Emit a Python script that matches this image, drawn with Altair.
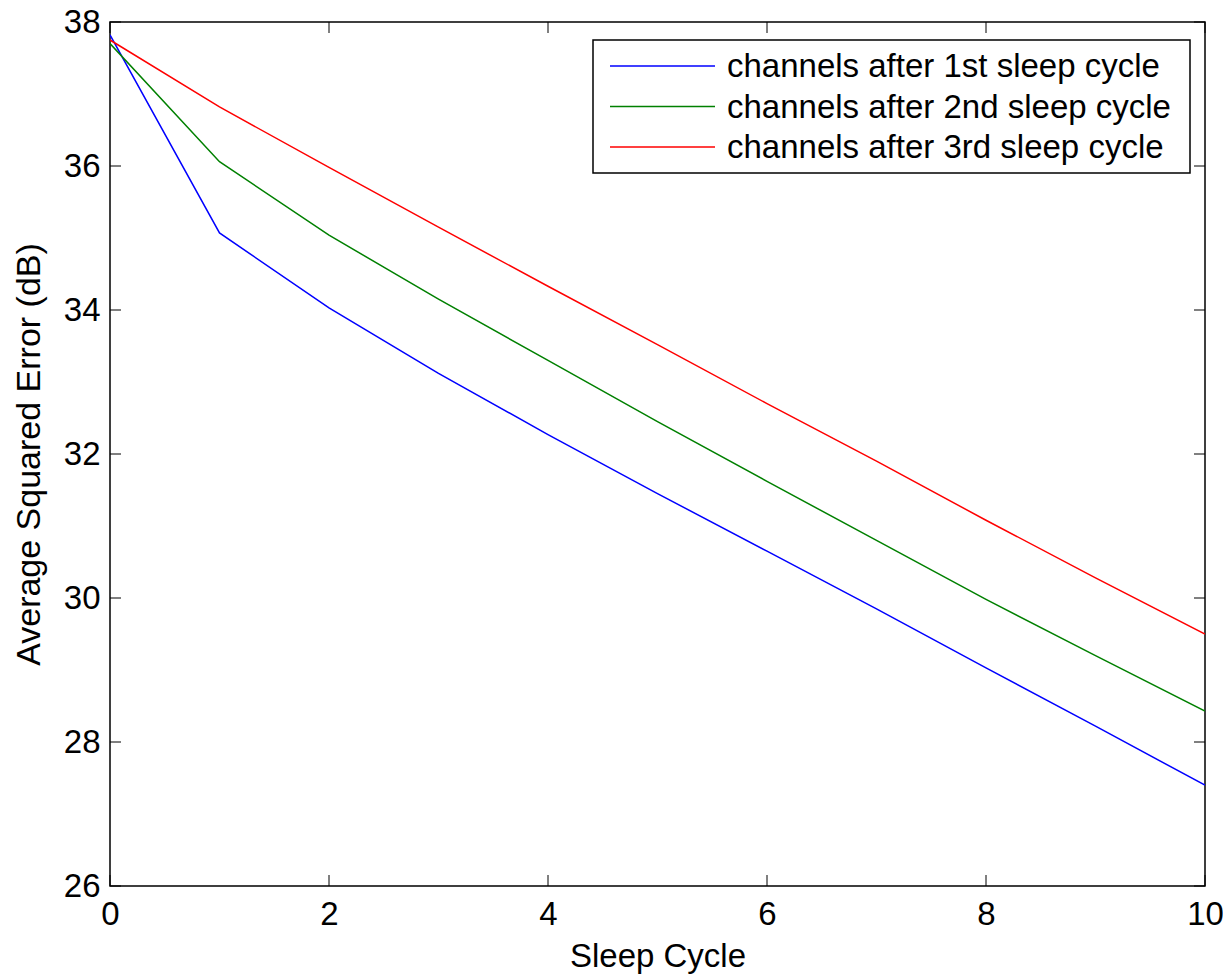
import altair as alt
import pandas as pd

cycles = [0, 1, 2, 3, 4, 5, 6, 7, 8, 9, 10]
blue_vals = [37.82, 35.07, 34.03, 33.12, 32.27, 31.45, 30.65, 29.85, 29.03, 28.22, 27.40]
green_vals = [37.70, 36.06, 35.04, 34.15, 33.30, 32.45, 31.62, 30.80, 29.98, 29.20, 28.43]
red_vals = [37.75, 36.82, 35.98, 35.15, 34.33, 33.52, 32.70, 31.90, 31.08, 30.28, 29.50]
series_names = ["channels after 1st sleep cycle",
                "channels after 2nd sleep cycle",
                "channels after 3rd sleep cycle"]
series_colors = ["#0000FF", "#008000", "#FF0000"]
x_ticks = [0, 2, 4, 6, 8, 10]
y_ticks = [26, 28, 30, 32, 34, 36, 38]

W, H = 1095, 864
FONT = "Liberation Sans"
FS = 33
TICK = 11

rows = []
for name, vals in zip(series_names, [blue_vals, green_vals, red_vals]):
    for c, v in zip(cycles, vals):
        rows.append({"cycle": c, "err": v, "series": name})
df = pd.DataFrame(rows)

xscale = alt.Scale(domain=[0, 10], nice=False, zero=False)
yscale = alt.Scale(domain=[26, 38], nice=False, zero=False)

xaxis = alt.Axis(title="Sleep Cycle", values=x_ticks, format="d", ticks=False, domain=False,
                 grid=False, labelFontSize=FS, labelFont=FONT, labelColor="black",
                 labelPadding=12, labelFlush=False, labelOverlap=False,
                 titleFontSize=FS, titleFont=FONT,
                 titleFontWeight="normal", titleColor="black", titlePadding=9)
yaxis = alt.Axis(title="Average Squared Error (dB)", values=y_ticks, format="d", ticks=False,
                 domain=False, grid=False, labelFontSize=FS, labelFont=FONT,
                 labelColor="black", labelPadding=10, labelFlush=False, labelOverlap=False,
                 titleFontSize=34, titleFont=FONT, titleFontWeight="normal",
                 titleColor="black", titlePadding=17)

lines = alt.Chart(df).mark_line(strokeWidth=1.5, clip=True).encode(
    x=alt.X("cycle:Q", scale=xscale, axis=xaxis),
    y=alt.Y("err:Q", scale=yscale, axis=yaxis),
    color=alt.Color("series:N",
                    scale=alt.Scale(domain=series_names, range=series_colors),
                    legend=None),
)

xt = pd.DataFrame({"t": x_ticks})
yt = pd.DataFrame({"t": y_ticks})

xb = alt.Chart(xt).mark_rule(color="black", strokeWidth=1).encode(
    x=alt.X("t:Q", scale=xscale, axis=xaxis), y=alt.value(H), y2=alt.value(H - TICK))
xtop = alt.Chart(xt).mark_rule(color="black", strokeWidth=1).encode(
    x=alt.X("t:Q", scale=xscale, axis=xaxis), y=alt.value(0), y2=alt.value(TICK))
yl = alt.Chart(yt).mark_rule(color="black", strokeWidth=1).encode(
    y=alt.Y("t:Q", scale=yscale, axis=yaxis), x=alt.value(0), x2=alt.value(TICK))
yr = alt.Chart(yt).mark_rule(color="black", strokeWidth=1).encode(
    y=alt.Y("t:Q", scale=yscale, axis=yaxis), x=alt.value(W), x2=alt.value(W - TICK))

# legend box (drawn manually, MATLAB style)
one = pd.DataFrame({"k": [0]})
box = alt.Chart(one).mark_rect(fill="white", stroke="black", strokeWidth=1.5).encode(
    x=alt.value(483), x2=alt.value(1080), y=alt.value(18), y2=alt.value(151))
legend_layers = [box]
for i, (name, col) in enumerate(zip(series_names, series_colors)):
    ypix = 44 + 40.5 * i
    d = pd.DataFrame({"s": [name]})
    legend_layers.append(
        alt.Chart(d).mark_rule(color=col, strokeWidth=1.5).encode(
            x=alt.value(500), x2=alt.value(605), y=alt.value(ypix)))
    legend_layers.append(
        alt.Chart(d).mark_text(align="left", baseline="middle", fontSize=FS, font=FONT,
                               color="black").encode(
            x=alt.value(617), y=alt.value(ypix + 1), text="s:N"))

chart = alt.layer(lines, xb, xtop, yl, yr, *legend_layers).properties(
    width=W, height=H,
    autosize=alt.AutoSizeParams(type="none"),
    padding={"left": 102, "top": 14, "right": 18, "bottom": 90},
    background="white",
).configure_view(stroke="black", strokeWidth=1.5)

chart.save("out.html", embed_options={"renderer": "svg", "actions": False})
